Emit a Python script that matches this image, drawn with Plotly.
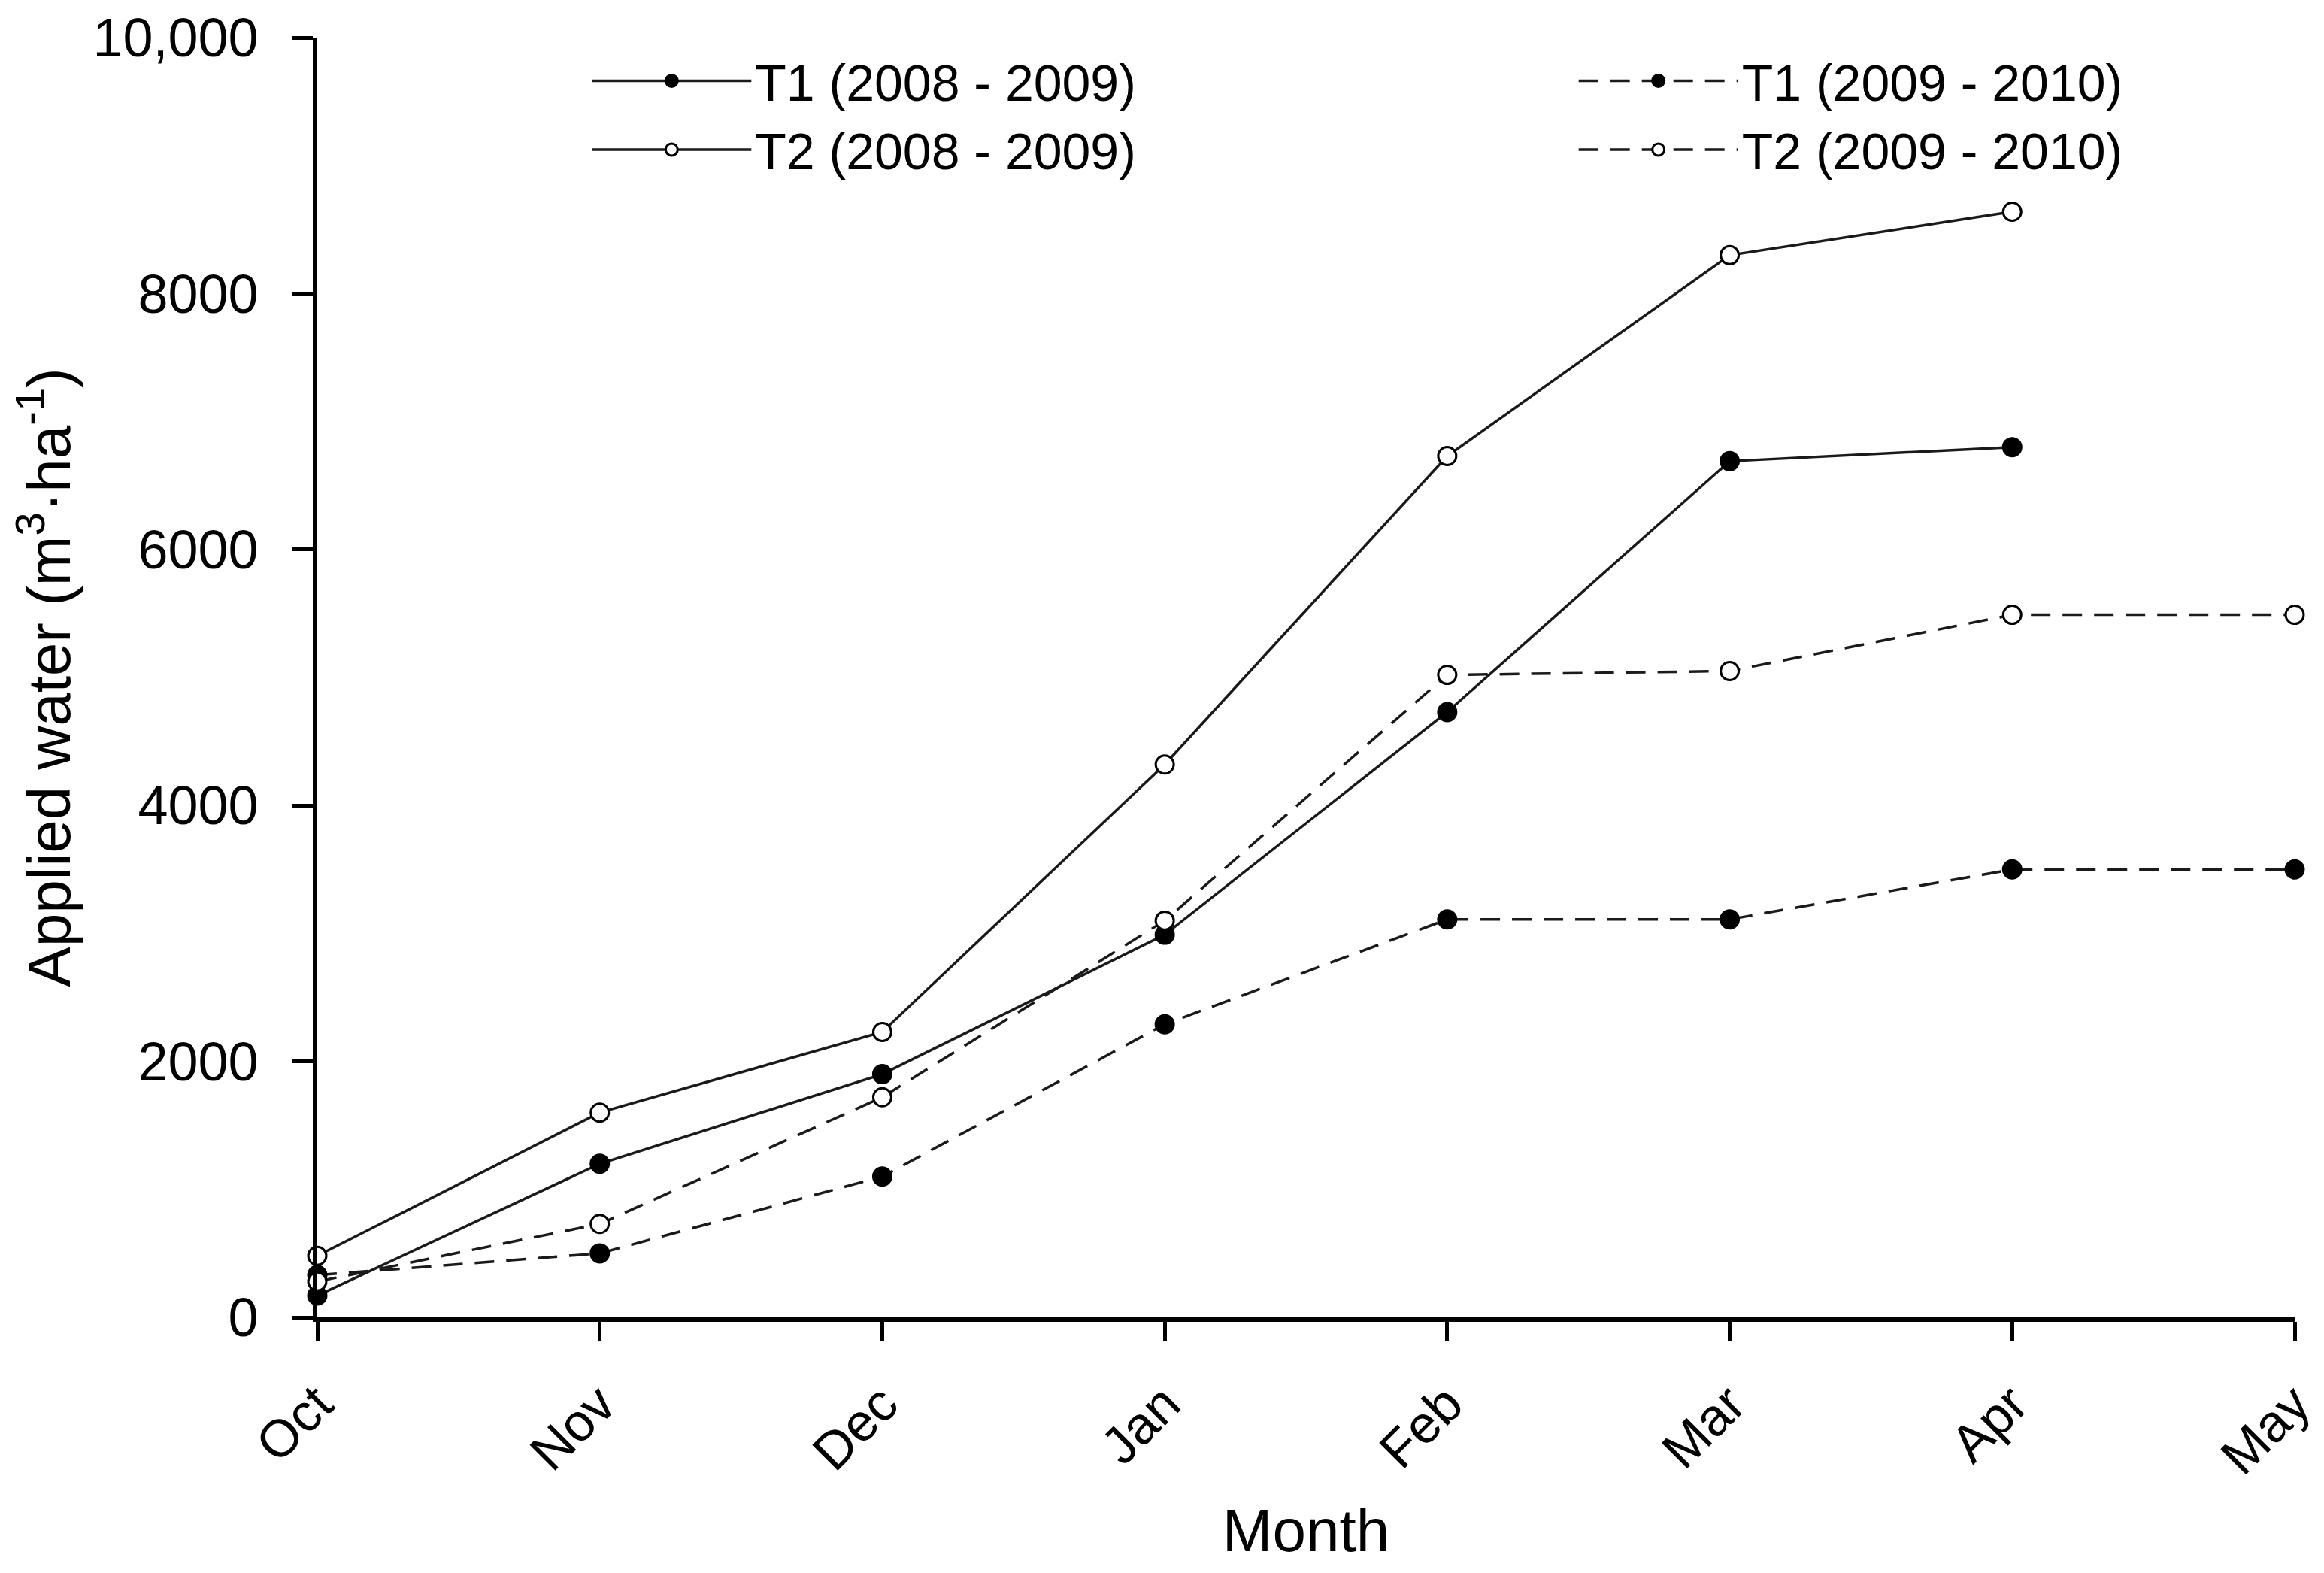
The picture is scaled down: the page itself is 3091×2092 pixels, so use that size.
import plotly.graph_objects as go

months = ["Oct", "Nov", "Dec", "Jan", "Feb", "Mar", "Apr", "May"]
t1_0809 = [170, 1200, 1900, 2990, 4730, 6690, 6800]
t2_0809 = [480, 1600, 2230, 4320, 6730, 8300, 8640]
t1_0910 = [330, 500, 1100, 2290, 3110, 3110, 3500, 3500]
t2_0910 = [280, 730, 1720, 3100, 5020, 5050, 5490, 5490]
y_ticks = [0, 2000, 4000, 6000, 8000, 10000]
y_tick_text = ["0", "2000", "4000", "6000", "8000", "10,000"]

FONT = "Liberation Sans, Arial, sans-serif"
DASH = "26px,16px"

def idx(vals):
    return list(range(len(vals)))

fig = go.Figure()
series = [
    ("T1 (2008 - 2009)", t1_0809, "solid", "black", "legend"),
    ("T2 (2008 - 2009)", t2_0809, "solid", "white", "legend"),
    ("T1 (2009 - 2010)", t1_0910, DASH, "black", "legend2"),
    ("T2 (2009 - 2010)", t2_0910, DASH, "white", "legend2"),
]
for name, vals, dash, fill, leg in series:
    fig.add_trace(go.Scatter(
        x=idx(vals), y=vals, name=name, mode="lines+markers",
        line=dict(color="#1a1a1a", width=3.5, dash=dash),
        marker=dict(symbol="circle", size=24, color=fill,
                    line=dict(color="black", width=3)),
        cliponaxis=False, legend=leg,
    ))

legend_common = dict(
    orientation="v", y=0.996, xanchor="left", yanchor="top",
    itemwidth=212, font=dict(size=68, family=FONT, color="black"),
    bgcolor="rgba(0,0,0,0)", tracegroupgap=0, traceorder="normal",
)

fig.update_layout(
    width=3091, height=2092,
    paper_bgcolor="white", plot_bgcolor="white",
    margin=dict(l=414, r=47, t=42, b=348),
    font=dict(family=FONT, size=74, color="black"),
    showlegend=True,
    legend=dict(x=0.137, **legend_common),
    legend2=dict(x=0.636, **legend_common),
    xaxis=dict(
        range=[0, 7], tickvals=list(range(len(months))), ticktext=months,
        tickangle=-45, ticks="outside", ticklen=26, tickwidth=5,
        tickcolor="black", showline=True, linecolor="black", linewidth=6,
        showgrid=False, zeroline=False, ticklabeloverflow="allow",
        ticklabelstandoff=14, automargin=False,
        tickfont=dict(size=70, family=FONT),
        title=dict(text="Month", font=dict(size=80, family=FONT), standoff=34),
    ),
    yaxis=dict(
        range=[0, 10000], tickvals=y_ticks, ticktext=y_tick_text,
        ticks="outside", ticklen=28, tickwidth=5, tickcolor="black",
        showline=True, linecolor="black", linewidth=6,
        showgrid=False, zeroline=False, ticklabelstandoff=30,
        ticklabeloverflow="allow", automargin=False,
        tickfont=dict(size=72, family=FONT),
        title=dict(text="Applied water (m<sup>3</sup>·ha<sup>-1</sup>)",
                   font=dict(size=80, family=FONT), standoff=22),
    ),
)

fig.write_html("out.html")
